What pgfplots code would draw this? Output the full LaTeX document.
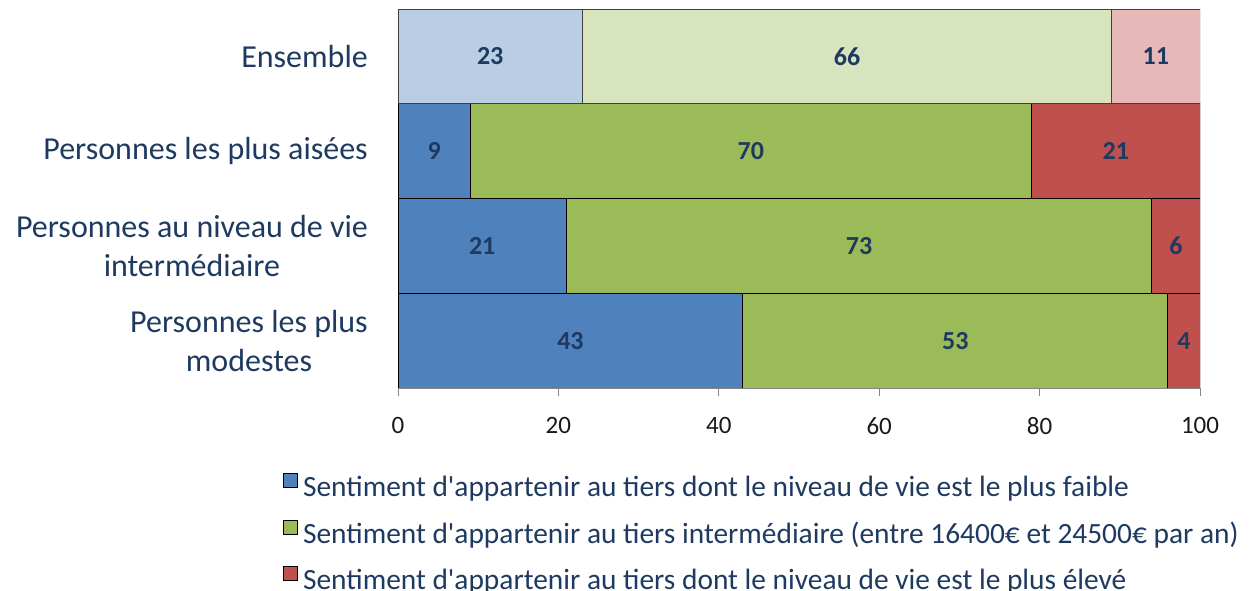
\documentclass[border=0pt]{standalone}
\usepackage{fontspec}
\setmainfont{Carlito}
\usepackage{pgfplots}
\pgfplotsset{compat=1.18}
\usepackage{pgfplotstable}
\definecolor{cblue}{HTML}{4F81BD}
\definecolor{lblue}{HTML}{B9CDE5}
\definecolor{cgreen}{HTML}{9BBB59}
\definecolor{lgreen}{HTML}{D7E4BD}
\definecolor{cred}{HTML}{C0504D}
\definecolor{lred}{HTML}{E6B9B8}
\definecolor{navy}{HTML}{1F3A60}
\definecolor{axgray}{HTML}{868686}
\pgfplotstableread{
y A B C
0 43 53 4
1 21 73 6
2 9 70 21
}\maintab
\pgfplotstableread{
y A B C
3 23 66 11
}\enstab
\pgfplotsset{
  common/.style={
    xbar stacked, width=802bp, height=379bp, scale only axis,
    at={(398bp,203bp)}, anchor=south west,
    xmin=0, xmax=100, ymin=-0.5, ymax=3.5, bar width=1,
    /pgf/number format/assume math mode=true,
    nodes near coords={\pgfmathprintnumber{\rawx}},
    every node near coord/.append style={anchor=center, font=\fontsize{26bp}{30bp}\selectfont\bfseries, text=navy},
  },
  seg/.style={draw=black, line width=0.9bp, fill=#1},
}
\begin{document}
\begin{tikzpicture}[x=1bp,y=1bp]
\path[use as bounding box] (0,0) rectangle (1249,591);
\begin{axis}[common,
  axis x line*=bottom, axis y line*=left,
  axis line style={draw=axgray, line width=0.8bp},
  tick align=outside, major tick length=8bp, minor tick length=8bp,
  xtick={0,20,...,100},
  xtick style={draw=axgray, line width=0.8bp},
  xticklabel style={font=\fontsize{25bp}{30bp}\selectfont, text=black!90, yshift=-18bp},
  ytick={0,1,2,3},
  ytick style={draw=none},
  minor ytick={-0.5,0.5,1.5,2.5,3.5},
  minor tick style={draw=axgray, line width=0.8bp},
  yticklabels={{Personnes les plus\\modestes},{Personnes au niveau de vie\\intermédiaire},{Personnes les plus aisées},{Ensemble}},
  yticklabel style={align=center, font=\fontsize{32bp}{39bp}\selectfont, text=navy, inner sep=0pt, xshift=-22bp},
  legend style={at={(-0.1434,-0.2243)}, anchor=north west, draw=none, fill=none, inner sep=0pt,
    font=\fontsize{29.4bp}{35bp}\selectfont, text=navy, row sep=17bp, column sep=5bp,
    nodes={inner sep=0pt, text height=22bp, text depth=6bp}},
  legend cell align=left,
  legend image code/.code={\draw[#1, draw=black, line width=0.9bp] (0bp,1bp) rectangle (14bp,15bp);},
]
\addplot[seg=cblue, visualization depends on={\thisrow{A}\as\rawx}] table[x=A, y=y]{\maintab};
\addplot[seg=cgreen, visualization depends on={\thisrow{B}\as\rawx}] table[x=B, y=y]{\maintab};
\addplot[seg=cred, visualization depends on={\thisrow{C}\as\rawx}] table[x=C, y=y]{\maintab};
\legend{Sentiment d\textquotesingle appartenir au tiers dont le niveau de vie est le plus faible,
Sentiment d\textquotesingle appartenir au tiers intermédiaire (entre 16400€ et 24500€ par an),
Sentiment d\textquotesingle appartenir au tiers dont le niveau de vie est le plus élevé}
\end{axis}
\begin{axis}[common, hide axis]
\addplot[seg=lblue, draw=black!75, visualization depends on={\thisrow{A}\as\rawx}] table[x=A, y=y]{\enstab};
\addplot[seg=lgreen, draw=black!75, visualization depends on={\thisrow{B}\as\rawx}] table[x=B, y=y]{\enstab};
\addplot[seg=lred, draw=black!75, visualization depends on={\thisrow{C}\as\rawx}] table[x=C, y=y]{\enstab};
\end{axis}
\end{tikzpicture}
\end{document}
